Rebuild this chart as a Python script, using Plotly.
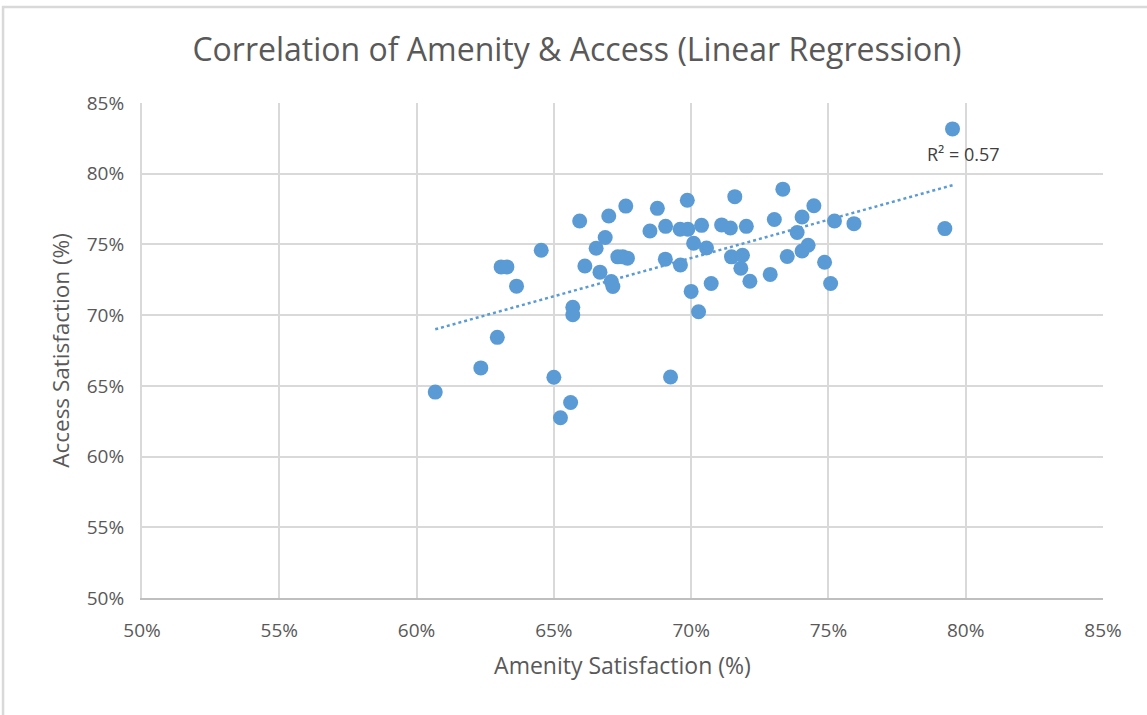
"""Scatter of amenity vs access satisfaction with a linear trendline."""

import numpy as np
import plotly.graph_objects as go

# Amenity satisfaction (%) per site
amenity = [
    60.68, 62.34, 62.94, 63.08, 63.29, 63.64, 64.54, 65.00, 65.61, 65.24,
    65.69, 65.69, 65.94, 66.13, 66.68, 66.54, 66.87, 67.00, 67.62, 67.09,
    67.15, 67.33, 67.51, 67.68, 68.50, 68.77, 69.07, 69.06, 69.61, 69.60,
    69.88, 69.86, 70.38, 70.09, 70.56, 70.00, 70.27, 69.25, 70.73, 71.11,
    71.43, 71.59, 72.01, 71.47, 71.87, 71.81, 72.14, 72.88, 73.03, 73.34,
    73.50, 73.86, 74.04, 74.47, 74.04, 74.26, 74.86, 75.08, 75.22, 75.93,
    79.52, 79.24,
]

# Access satisfaction (%) per site
access = [
    64.56, 66.27, 68.43, 73.41, 73.41, 72.05, 74.59, 65.61, 63.82, 62.74,
    70.55, 70.03, 76.66, 73.48, 73.04, 74.73, 75.49, 77.01, 77.71, 72.38,
    72.03, 74.12, 74.12, 74.03, 75.95, 77.55, 76.28, 73.96, 73.55, 76.07,
    76.07, 78.12, 76.35, 75.08, 74.75, 71.68, 70.24, 65.63, 72.24, 76.38,
    76.16, 78.38, 76.28, 74.12, 74.24, 73.32, 72.40, 72.88, 76.76, 78.91,
    74.15, 75.84, 76.94, 77.74, 74.54, 74.94, 73.74, 72.24, 76.66, 76.47,
    83.17, 76.12,
]

r2_label = "R² = 0.57"

x = np.array(amenity) / 100
y = np.array(access) / 100

# Least squares trendline over the data range
slope, intercept = np.polyfit(x, y, 1)
trend_x = np.array([x.min(), x.max()])
trend_y = slope * trend_x + intercept

blue = '#5B9BD5'
grey_text = '#595959'
grid = '#D9D9D9'
font_family = 'Open Sans'

fig = go.Figure()

fig.add_trace(go.Scatter(
    x=trend_x,
    y=trend_y,
    mode='lines',
    line=dict(color=blue, width=2.5, dash='dot'),
    hoverinfo='skip',
    showlegend=False
))

fig.add_trace(go.Scatter(
    x=x,
    y=y,
    mode='markers',
    marker=dict(size=15, color=blue, line=dict(width=0)),
    hovertemplate='%{x:.1%}, %{y:.1%}<extra></extra>',
    showlegend=False
))

fig.add_annotation(
    x=trend_x[-1],
    y=trend_y[-1],
    text=r2_label,
    showarrow=False,
    xanchor='center',
    yanchor='bottom',
    yshift=17,
    xshift=11,
    font=dict(family=font_family, size=18, color='#404040')
)

# Outer chart frame (light grey border)
fig.add_shape(
    type='rect', xref='paper', yref='paper',
    x0=-0.1446, x1=1.2, y0=-0.4, y1=1.194,
    line=dict(color=grid, width=2.5),
    layer='below'
)

axis_common = dict(
    range=[0.5, 0.85],
    dtick=0.05,
    tickformat='.0%',
    showgrid=True,
    gridcolor=grid,
    gridwidth=2,
    zeroline=False,
    tickfont=dict(family=font_family, size=19, color=grey_text),
    ticks='',
)

fig.update_layout(
    width=1147,
    height=715,
    margin=dict(l=142, r=44, t=103, b=117),
    paper_bgcolor='white',
    plot_bgcolor='white',
    title=dict(
        text='Correlation of Amenity & Access (Linear Regression)',
        x=0.503,
        xref='container',
        y=0.93,
        yref='container',
        xanchor='center',
        yanchor='middle',
        font=dict(family=font_family, size=32, color=grey_text)
    ),
    xaxis=dict(
        title=dict(text='Amenity Satisfaction (%)', standoff=16,
                   font=dict(family=font_family, size=23, color=grey_text)),
        showline=True, linecolor='#BFBFBF', linewidth=2,
        ticklabelstandoff=14,
        **axis_common
    ),
    yaxis=dict(
        title=dict(text='Access Satisfaction (%)', standoff=11,
                   font=dict(family=font_family, size=22.5, color=grey_text)),
        showline=True, linecolor=grid, linewidth=2,
        ticklabelstandoff=12,
        **axis_common
    ),
)

# drop the browser's default body margin so the chart sits at the page corner
fig.write_html(
    "out.html",
    config={'displayModeBar': False},
    post_script="document.body.style.margin='0';"
)
